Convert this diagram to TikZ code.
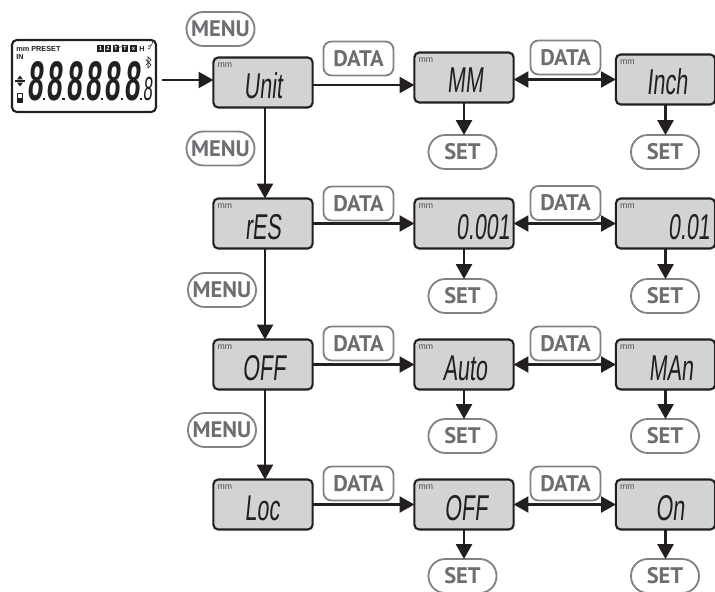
\documentclass[tikz,border=0pt]{standalone}
\usepackage{fontspec}
\setmainfont{Liberation Sans}
\newfontfamily\btnfont{PT Sans}
\newfontfamily\lcdfont[FakeStretch=0.6,FakeSlant=0.1]{Liberation Sans}
\newfontfamily\digitfont[FakeStretch=0.5,FakeSlant=0.08]{Liberation Sans}
\usetikzlibrary{arrows.meta}
\definecolor{LcdGray}{RGB}{209,211,212}
\definecolor{LcdInk}{RGB}{35,31,32}
\definecolor{BtnGray}{RGB}{128,130,133}
\definecolor{BtnText}{RGB}{109,110,113}

\begin{document}
\begin{tikzpicture}[
    x=0.025cm, y=-0.025cm,
    screen/.style={draw=LcdInk, fill=LcdGray, line width=1.5pt, rounded corners=0.12cm,
                   minimum width=2.48cm, minimum height=1.25cm, inner sep=0pt, outer sep=0pt},
    reading/.style={font=\lcdfont\fontsize{25.5}{25.5}\selectfont, text=LcdInk, anchor=base, inner sep=0pt},
    unitmm/.style={font=\fontsize{6.2}{6.2}\selectfont, text=LcdInk!80, anchor=west, inner sep=0pt},
    btn/.style={draw=BtnGray, fill=white, line width=1.3pt, text=BtnText, inner sep=0pt, outer sep=0pt,
                font=\btnfont\bfseries\fontsize{16}{16}\selectfont, minimum height=0.85cm},
    databtn/.style={btn, rounded corners=0.2cm, minimum width=1.75cm},
    pillbtn/.style={btn, rounded corners=0.42cm, minimum width=1.7cm},
    flow/.style={draw=LcdInk, line width=1.5pt, -{Triangle[length=0.37cm,width=0.4cm]}},
    dflow/.style={draw=LcdInk, line width=1.5pt, {Triangle[length=0.37cm,width=0.4cm]}-{Triangle[length=0.37cm,width=0.4cm]}},
    tiny lcd/.style={font=\fontsize{5.2}{5.2}\bfseries\selectfont, text=LcdInk, inner sep=0pt},
    icon/.style={fill=LcdInk, text=white, font=\fontsize{4.2}{4.2}\bfseries\selectfont, inner sep=0pt,
                 minimum width=0.165cm, minimum height=0.175cm}
  ]
  \useasboundingbox (0,0) rectangle (715,591);

  % Main display
  \node[draw=LcdInk, fill=white, line width=1.5pt, rounded corners=0.12cm, minimum width=3.6cm,
        minimum height=1.8cm, inner sep=0pt, outer sep=0pt] (lcd) at (84,76) {};
  \node[tiny lcd, anchor=west] (preset) at (16,49) {mm PRESET};
  \node[tiny lcd, anchor=west] (inch lcd) at (16,57) {IN};
  \foreach \x/\c in {100.5/1, 108/2, 116/T, 125/T, 133.5/x}{
    \node[icon] (icon\c\x) at (\x,48.5) {\c};
  }
  \node[tiny lcd] (hold) at (142,48.5) {H};
  \draw[LcdInk, line width=0.25pt] (116,44) arc (180:0:3.5);
  \draw[LcdInk, line width=0.4pt] (148,46.5) arc (90:0:5);
  \draw[LcdInk, line width=0.4pt] (148,49) arc (90:0:2.5);
  \draw[LcdInk, line width=0.5pt] (145.5,59.5) -- (151,65) -- (148,68) -- (148,57) -- (151,60) -- (145.5,65.5);

  % Digits
  \foreach \i in {0,...,5}{
    \node[font=\digitfont\bfseries\fontsize{39.7}{39.7}\selectfont, text=LcdInk, anchor=base, inner sep=0pt]
      (digit\i) at ({35+\i*19.4},100) {8};
    \fill[LcdInk] ({43+\i*19.4},97.5) rectangle +(2.2,2.5);
  }
  \node[font=\digitfont\fontsize{23.8}{23.8}\selectfont, text=LcdInk, anchor=base, inner sep=0pt]
    (digitsmall) at (147.5,100) {8};

  % Sign and battery
  \draw[LcdInk, line width=0.9pt] (15,81) -- (25,81);
  \fill[LcdInk] (17,79.5) -- (23,79.5) -- (20,75.5) -- cycle;
  \fill[LcdInk] (17,82.5) -- (23,82.5) -- (20,86.5) -- cycle;
  \draw[LcdInk, line width=0.5pt] (17,93) rectangle (22.5,102);
  \fill[LcdInk] (17,98) rectangle (22.5,102);

  % Screens
  \foreach \name/\x/\y/\tx/\txt in {
      unit/263/82.5/263/Unit, res/263/223.5/263/rES, off/263/364.5/264/OFF, loc/263/504.5/262/Loc,
      mm/464/77.5/465/MM, thou/464/223.5/483/0.001, auto/464/364.5/465/Auto, lock/464/504.5/466/OFF,
      inch/665.5/79.5/667/Inch, hund/665.5/223.5/689/0.01, man/665.5/364.5/671/MAn, on/665.5/504.5/670/On}{
    \node[screen] (\name) at (\x,\y) {};
    \node[unitmm] (\name mm) at ([xshift=0.1cm,yshift=-0.2cm]\name.north west) {mm};
    \node[reading] (\name txt) at (\tx,\y+15.5) {\txt};
  }
  \node[draw=none, inner sep=0pt] (entry) at (161,80) {};

  % Arrows
  \draw[flow] (entry) -- (entry -| unit.west);
  \foreach \a/\b in {unit/res, res/off, off/loc}{
    \draw[flow] ([xshift=0.05cm]\a.south) -- ([xshift=0.05cm]\b.north);
  }
  \foreach \a/\b/\c/\dy in {unit/mm/inch/0.0625, res/thou/hund/0, off/auto/man/0, loc/lock/on/0}{
    \draw[flow] ([yshift=-\dy cm]\a.east) -- ([yshift=-\dy cm]\a.east -| \b.west);
    \draw[dflow] (\c.west -| \b.east) -- (\c.west);
  }

  % Buttons
  \foreach \name/\x/\y in {menua/220.5/29, menub/220.5/148.5, menuc/222/290, menud/222/430}{
    \node[pillbtn] (\name) at (\x,\y) {MENU};
  }
  \foreach \name/\x/\y in {dataa/358.5/58.5, datab/565.5/57.5, datac/358.5/203.5, datad/565.5/203,
      datae/358.5/343.5, dataf/565.5/343.5, datag/358.5/483.5, datah/565.5/483.5}{
    \node[databtn] (\name) at (\x,\y) {DATA};
  }
  \foreach \name/\src/\x/\y in {seta/mm/462.5/152, setb/inch/665/152, setc/thou/462.5/296, setd/hund/665/296,
      sete/auto/462.5/436, setf/man/665/436, setg/lock/462.5/576, seth/on/665/576}{
    \node[pillbtn] (\name) at (\x,\y) {SET};
    \draw[flow] (\src.south) -- (\src.south |- \name.north);
  }
\end{tikzpicture}
\end{document}
